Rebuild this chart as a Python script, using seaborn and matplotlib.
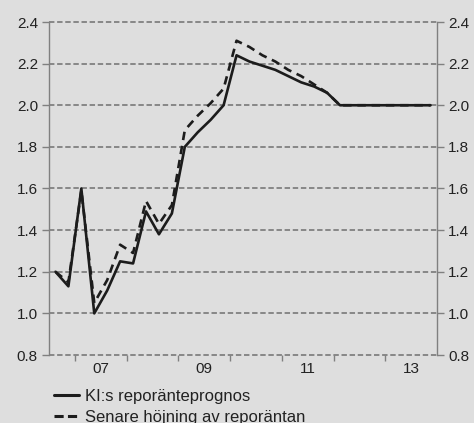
import pandas as pd
import numpy as np
import matplotlib
matplotlib.use('Agg')
import matplotlib.pyplot as plt
import seaborn as sns

# Quarterly data, 2006Q3 - 2013Q4
quarters = pd.period_range('2006Q3', '2013Q4', freq='Q')
ki_forecast = [1.20, 1.13, 1.60, 1.00, 1.11, 1.25, 1.24, 1.49, 1.38, 1.48,
               1.80, 1.87, 1.93, 2.00, 2.24, 2.21, 2.19, 2.17, 2.14, 2.11,
               2.09, 2.06, 2.00, 2.00, 2.00, 2.00, 2.00, 2.00, 2.00, 2.00]
later_hike = [1.20, 1.15, 1.59, 1.05, 1.16, 1.33, 1.29, 1.54, 1.43, 1.52,
              1.88, 1.95, 2.01, 2.08, 2.31, 2.28, 2.24, 2.21, 2.17, 2.14,
              2.10, 2.06, 2.00, 2.00, 2.00, 2.00, 2.00, 2.00, 2.00, 2.00]
series_names = ['KI:s reporänteprognos', 'Senare höjning av reporäntan']
y_ticks = [0.8, 1.0, 1.2, 1.4, 1.6, 1.8, 2.0, 2.2, 2.4]
x_labels = ['07', '09', '11', '13']
x_label_years = [2007, 2009, 2011, 2013]

# decimal year at quarter midpoint
t = quarters.year + (quarters.quarter - 0.5) / 4
df = pd.DataFrame({'t': np.tile(t, 2),
                   'value': ki_forecast + later_hike,
                   'serie': np.repeat(series_names, len(t))})

sns.set_style('white')
plt.rcParams['font.family'] = ['Liberation Sans', 'DejaVu Sans']
bg = '#dedede'
txt = '#222222'

fig = plt.figure(figsize=(4.74, 4.23), dpi=100, facecolor=bg)
ax = fig.add_axes([49 / 474, 1 - 355 / 423, 388 / 474, 333 / 423])
ax.set_facecolor(bg)

sns.lineplot(data=df, x='t', y='value', style='serie', color='#1c1c1c',
             dashes={series_names[0]: '', series_names[1]: (3.2, 2.2)},
             linewidth=1.9, ax=ax, legend=False)

ax.set_xlim(2006.5, 2014.0)
ax.set_ylim(0.8, 2.4)
ax.set_yticks(y_ticks)
ax.set_yticklabels([f'{v:.1f}' for v in y_ticks])
ax.set_xticks(range(2007, 2014))
ax.set_xticklabels([])
ax.set_xticks([y + 0.5 for y in x_label_years], minor=True)
ax.set_xticklabels(x_labels, minor=True)
ax.set_xlabel('')
ax.set_ylabel('')

ax.tick_params(axis='y', which='major', left=True, right=True,
               labelleft=True, labelright=True, direction='out',
               length=5, width=1, color='#808080', labelsize=11,
               labelcolor=txt, pad=3)
ax.tick_params(axis='x', which='major', bottom=True, direction='out',
               length=4, width=1, color='#808080')
ax.tick_params(axis='x', which='minor', bottom=True, length=0,
               labelsize=11, labelcolor=txt, pad=5)

ax.grid(axis='y', color='#808080', linestyle=(0, (3, 1.5)), linewidth=1.3)
ax.grid(axis='x', visible=False)
for gl in ax.get_ygridlines():
    gl.set_clip_on(False)

for s in ['top', 'bottom']:
    ax.spines[s].set_visible(False)
for s in ['left', 'right']:
    ax.spines[s].set_color('#808080')
    ax.spines[s].set_linewidth(1.0)

# Legend below the chart
handles = [plt.Line2D([], [], color='#1c1c1c', lw=2.2),
           plt.Line2D([], [], color='#1c1c1c', lw=2.2, linestyle=(0, (3.0, 1.4)))]
fig.legend(handles, series_names, loc='upper left',
           bbox_to_anchor=(54 / 474, 1 - 389 / 423), frameon=False,
           fontsize=12, labelcolor=txt, handlelength=1.5,
           handletextpad=0.35, labelspacing=0.33, borderpad=0,
           borderaxespad=0)

fig.savefig('out.png', dpi=100, facecolor=bg)
